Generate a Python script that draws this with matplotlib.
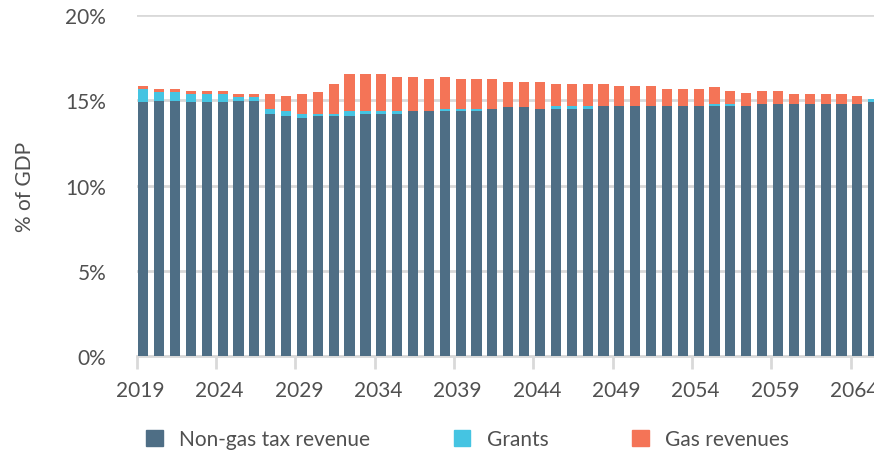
import numpy as np
import matplotlib
matplotlib.use("Agg")
import matplotlib.pyplot as plt
from matplotlib.patches import Patch

plt.rcParams['font.family'] = ['Lato', 'DejaVu Sans']

# Data (% of GDP), 2019-2065
years = list(range(2019, 2066))
non_gas = [14.88, 14.94, 14.94, 14.88, 14.88, 14.88, 14.94, 14.94, 14.18, 14.06,
           13.94, 14.06, 14.06, 14.06, 14.18, 14.18, 14.18, 14.35, 14.35, 14.35,
           14.35, 14.35, 14.47, 14.59, 14.59, 14.47, 14.47, 14.47, 14.47, 14.65,
           14.65, 14.65, 14.65, 14.65, 14.65, 14.65, 14.65, 14.65, 14.65, 14.76,
           14.76, 14.76, 14.76, 14.76, 14.76, 14.76, 14.88]
grants = [0.76, 0.53, 0.53, 0.47, 0.47, 0.47, 0.23, 0.23, 0.29, 0.29,
          0.24, 0.12, 0.12, 0.29, 0.17, 0.17, 0.17, 0.0, 0.0, 0.12,
          0.12, 0.12, 0.0, 0.0, 0.0, 0.0, 0.18, 0.18, 0.18, 0.0,
          0.0, 0.0, 0.0, 0.0, 0.0, 0.0, 0.11, 0.11, 0.0, 0.0,
          0.0, 0.0, 0.0, 0.0, 0.0, 0.0, 0.18]
gas = [0.18, 0.17, 0.17, 0.17, 0.17, 0.17, 0.18, 0.18, 0.88, 0.88,
       1.17, 1.29, 1.75, 2.17, 2.17, 2.17, 1.99, 1.99, 1.88, 1.87,
       1.76, 1.76, 1.76, 1.46, 1.46, 1.58, 1.28, 1.28, 1.28, 1.28,
       1.17, 1.17, 1.17, 0.99, 0.99, 0.99, 0.99, 0.76, 0.76, 0.76,
       0.76, 0.59, 0.59, 0.59, 0.59, 0.47, 0.0]

c_navy = '#4e6e85'
c_cyan = '#45c4e2'
c_orange = '#f47457'
c_text = '#505050'
c_grid = '#d9d9d9'
fs = 15

fig = plt.figure(figsize=(8.74, 4.56), dpi=100)
ax = fig.add_axes([0.1563, 0.2171, 0.8437, 0.7478])

x = np.arange(len(years))
ng = np.array(non_gas)
gr = np.array(grants)
w = 0.64
ax.bar(x, ng, w, color=c_navy, zorder=3)
ax.bar(x, gr, w, bottom=ng, color=c_cyan, zorder=3)
ax.bar(x, gas, w, bottom=ng + gr, color=c_orange, zorder=3)

ax.set_xlim(-0.42, 46.05)
ax.set_ylim(0, 20)

# y axis
ax.set_yticks([0, 5, 10, 15, 20])
ax.set_yticklabels(['0%', '5%', '10%', '15%', '20%'])
ax.yaxis.grid(True, color=c_grid, linewidth=2, zorder=0)
ax.tick_params(axis='y', length=0, pad=22, labelsize=fs, labelcolor=c_text)
ax.set_ylabel('% of GDP', fontsize=fs, color=c_text, labelpad=22)

# x axis: tick marks at category boundaries, labels every 5 years
ax.set_xticks(x[::5] - 0.42, minor=True)
ax.set_xticks(x[::5] - 0.2)
ax.set_xticklabels([str(y) for y in years[::5]])
ax.tick_params(axis='x', which='major', length=0, pad=17, labelsize=fs, labelcolor=c_text)
ax.tick_params(axis='x', which='minor', length=9, width=2, color=c_grid, direction='out')

for s in ['top', 'right', 'left']:
    ax.spines[s].set_visible(False)
ax.spines['bottom'].set_color(c_grid)
ax.spines['bottom'].set_linewidth(2)

handles = [Patch(color=c_navy, label='Non-gas tax revenue'),
           Patch(color=c_cyan, label='Grants'),
           Patch(color=c_orange, label='Gas revenues')]
fig.legend(handles=handles, loc='center', bbox_to_anchor=(0.535, 0.035), ncol=3,
           frameon=False, fontsize=fs, labelcolor=c_text, handlelength=0.8,
           handleheight=0.8, handletextpad=0.8, columnspacing=4.0)

fig.savefig('out.png', dpi=100)
